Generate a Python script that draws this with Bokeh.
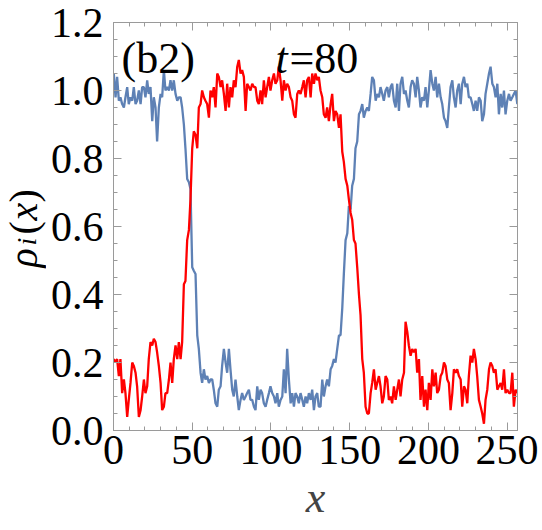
from bokeh.plotting import figure
from bokeh.layouts import row
from bokeh.models import (ColumnDataSource, LinearAxis, FixedTicker,
                          PrintfTickFormatter, CustomJSTickFormatter, Label, Range1d)
from bokeh.embed import file_html
from bokeh.resources import INLINE
import math

# ---- data ----
x_sites = [
    0.2, 1.3, 2.3, 3.4, 4.4, 5.5, 6.6, 7.6, 8.7, 9.7, 10.8, 11.9, 12.9, 14.0, 15.0, 16.1,
    17.2, 18.2, 19.3, 20.3, 21.4, 22.4, 23.5, 24.6, 25.6, 26.7, 27.7, 28.8, 29.9, 30.9,
    32.0, 33.0, 34.1, 35.2, 36.2, 37.3, 38.3, 39.4, 40.5, 41.5, 42.6, 43.6, 44.7, 45.7,
    46.8, 47.9, 48.9,
    50.0, 51.0, 52.1, 53.2, 54.2, 55.3, 56.3, 57.4, 58.4, 59.5, 60.6, 61.6, 62.7, 63.7,
    64.8, 65.9, 66.9, 68.0, 69.0, 70.1, 71.2, 72.2, 73.3, 74.3, 75.4, 76.4, 77.5, 78.6,
    79.6, 80.7, 81.7, 82.8, 83.9, 84.9, 86.0, 87.0, 88.1, 89.2, 90.2, 91.3, 92.3, 93.4,
    94.4, 95.5, 96.6, 97.6, 98.7, 99.7, 100.8, 101.9, 102.9,
    104.0, 105.0, 106.1, 107.2, 108.2, 109.3, 110.3, 111.4, 112.5, 113.5, 114.6, 115.6,
    116.7, 117.7, 118.8, 119.9, 120.9, 122.0, 123.0, 124.1, 125.2, 126.2, 127.3, 128.3,
    129.4, 130.4, 131.5, 132.6, 133.6, 134.7, 135.7, 136.8, 137.9, 138.9, 140.0, 141.0,
    142.1, 143.2, 144.2, 145.3, 146.3, 147.4, 148.5, 149.5, 150.6, 151.6, 152.7, 153.7,
    154.8, 155.9, 156.9,
    158.0, 159.0, 160.1, 161.2, 162.2, 163.3, 164.3, 165.4, 166.5, 167.5, 168.6, 169.6,
    170.7, 171.7, 172.8, 173.9, 174.9, 176.0, 177.0, 178.1, 179.2, 180.2, 181.3, 182.3,
    183.4, 184.5, 185.5, 186.6, 187.6, 188.7, 189.7, 190.8, 191.9, 192.9, 194.0, 195.0,
    196.1, 197.2, 198.2, 199.3, 200.3, 201.4, 202.5, 203.5, 204.6, 205.6, 206.7, 207.8,
    208.8, 209.9, 210.9,
    212.0, 213.0, 214.1, 215.2, 216.2, 217.3, 218.3, 219.4, 220.5, 221.5, 222.6, 223.6,
    224.7, 225.7, 226.8, 227.9, 228.9, 230.0, 231.0, 232.1, 233.2, 234.2, 235.3, 236.3,
    237.4, 238.5, 239.5, 240.6, 241.6, 242.7, 243.8, 244.8, 245.9, 246.9, 248.0, 249.0,
    250.1, 251.2, 252.2, 253.3, 254.3, 255.4, 256.5,
]

rho_blue = [
    1.05, 0.98, 1.04, 0.97, 0.98, 0.96, 0.95, 0.98, 1.01, 0.96, 0.98, 0.97, 1.01, 0.96,
    0.97, 1.00, 0.96, 1.01, 1.01, 0.98, 1.03, 0.99, 1.01, 0.91, 0.98, 0.95, 0.85, 0.95,
    0.99, 0.98, 1.06, 1.00, 1.01, 1.00, 1.03, 1.00, 1.03, 0.99, 0.97, 0.98, 0.98, 0.95,
    0.90, 0.83, 0.74, 0.73, 0.71,
    0.48, 0.47, 0.46, 0.28, 0.24, 0.17, 0.14, 0.18, 0.15, 0.16, 0.14, 0.15, 0.15, 0.12,
    0.08, 0.07, 0.12, 0.13, 0.19, 0.24, 0.20, 0.17, 0.24, 0.18, 0.12, 0.10, 0.15, 0.10,
    0.06, 0.09, 0.11, 0.09, 0.10, 0.11, 0.12, 0.09, 0.09, 0.07, 0.06, 0.13, 0.09, 0.12,
    0.11, 0.08, 0.07, 0.09, 0.11, 0.13, 0.11, 0.10, 0.08,
    0.11, 0.07, 0.09, 0.10, 0.18, 0.11, 0.24, 0.15, 0.08, 0.11, 0.07, 0.11, 0.10, 0.08,
    0.11, 0.09, 0.07, 0.10, 0.08, 0.11, 0.09, 0.12, 0.06, 0.10, 0.11, 0.07, 0.07, 0.15,
    0.10, 0.13, 0.15, 0.13, 0.18, 0.19, 0.21, 0.20, 0.24, 0.28, 0.28, 0.36, 0.46, 0.56,
    0.58, 0.66, 0.65, 0.72, 0.74, 0.83, 0.85, 0.93, 0.94,
    0.96, 0.92, 0.94, 0.95, 0.94, 0.99, 1.04, 1.03, 0.97, 0.99, 0.98, 1.01, 0.99, 0.97,
    1.00, 1.01, 0.98, 1.01, 1.02, 0.97, 0.95, 1.02, 0.94, 1.02, 1.04, 0.99, 1.00, 0.97,
    0.95, 1.01, 1.03, 1.02, 0.98, 1.04, 1.00, 0.95, 0.98, 0.97, 1.01, 0.95, 1.00, 1.06,
    1.02, 1.00, 1.04, 0.98, 1.02, 0.98, 0.96, 0.92, 0.91,
    0.89, 0.95, 1.01, 1.03, 0.98, 0.95, 1.00, 1.02, 0.96, 1.02, 1.04, 1.01, 1.02, 0.98,
    0.98, 0.96, 0.94, 0.97, 0.94, 0.98, 0.97, 0.91, 0.93, 0.99, 1.02, 1.05, 1.07, 1.02,
    1.01, 0.98, 1.02, 0.93, 0.99, 0.95, 1.00, 0.93, 0.97, 0.99, 0.97, 0.98, 0.99, 1.00,
    0.96,
]

rho_red = [
    0.21, 0.20, 0.21, 0.16, 0.21, 0.11, 0.15, 0.11, 0.04, 0.09, 0.14, 0.20, 0.19, 0.17,
    0.13, 0.04, 0.06, 0.10, 0.15, 0.11, 0.13, 0.21, 0.26, 0.25, 0.27, 0.26, 0.23, 0.19,
    0.14, 0.06, 0.07, 0.11, 0.11, 0.15, 0.20, 0.14, 0.21, 0.25, 0.21, 0.26, 0.21, 0.26,
    0.43, 0.44, 0.56, 0.59, 0.68,
    0.83, 0.88, 0.87, 0.83, 0.95, 0.96, 1.00, 0.98, 0.97, 0.96, 0.92, 1.00, 0.98, 1.01,
    0.95, 1.05, 1.04, 1.01, 1.03, 0.99, 0.94, 1.02, 0.95, 1.01, 0.98, 1.03, 1.01, 1.07,
    1.09, 1.05, 1.06, 1.04, 0.94, 1.02, 1.01, 1.00, 1.02, 1.01, 1.01, 0.97, 0.96, 1.00,
    0.96, 1.03, 0.98, 1.01, 1.04, 1.00, 1.03, 1.05, 1.02,
    1.03, 1.07, 1.03, 0.97, 1.03, 1.00, 1.02, 1.01, 0.98, 0.97, 0.93, 0.92, 0.99, 1.00,
    0.99, 1.01, 1.03, 0.98, 1.03, 1.04, 0.98, 1.05, 1.02, 1.05, 1.03, 1.04, 1.00, 0.98,
    0.93, 0.92, 0.95, 0.91, 0.96, 0.99, 0.91, 0.94, 0.93, 0.89, 0.93, 0.82, 0.79, 0.74,
    0.72, 0.68, 0.64, 0.62, 0.56, 0.55, 0.48, 0.40, 0.34,
    0.21, 0.17, 0.07, 0.05, 0.05, 0.11, 0.14, 0.18, 0.12, 0.14, 0.16, 0.13, 0.08, 0.10,
    0.16, 0.15, 0.09, 0.10, 0.08, 0.13, 0.09, 0.12, 0.15, 0.10, 0.15, 0.17, 0.32, 0.29,
    0.25, 0.22, 0.24, 0.23, 0.24, 0.17, 0.21, 0.09, 0.16, 0.07, 0.12, 0.06, 0.14, 0.09,
    0.18, 0.13, 0.17, 0.11, 0.12, 0.16, 0.17, 0.20, 0.19,
    0.15, 0.14, 0.06, 0.11, 0.18, 0.17, 0.18, 0.16, 0.15, 0.07, 0.13, 0.12, 0.08, 0.16,
    0.22, 0.20, 0.24, 0.21, 0.16, 0.09, 0.07, 0.05, 0.02, 0.09, 0.12, 0.18, 0.20, 0.19,
    0.17, 0.18, 0.12, 0.13, 0.14, 0.12, 0.18, 0.11, 0.12, 0.11, 0.11, 0.17, 0.07, 0.12,
    0.11,
]

x_major = [0, 50, 100, 150, 200, 250]
x_minor = [10, 20, 30, 40, 60, 70, 80, 90, 110, 120, 130, 140, 160, 170, 180, 190,
           210, 220, 230, 240]
y_major = [0.0, 0.2, 0.4, 0.6, 0.8, 1.0, 1.2]
y_minor = [0.05, 0.1, 0.15, 0.25, 0.3, 0.35, 0.45, 0.5, 0.55, 0.65, 0.7, 0.75,
           0.85, 0.9, 0.95, 1.05, 1.1, 1.15]

FONT = "Liberation Serif"
FRAME = "#9a9a9a"
BLUE = "#5E81B5"
RED = "#FF0000"

W, H = 542, 530
LW = 46                 # width of the narrow panel holding the y label
FL, FB = 113, 430       # frame left / bottom in window pixels

src = ColumnDataSource(dict(x=x_sites, blue=rho_blue, red=rho_red))

p = figure(width=W - LW, height=H, output_backend="svg", toolbar_location=None,
           x_range=Range1d(0, 256.6), y_range=Range1d(0, 1.2),
           min_border_left=FL - LW, min_border_right=25, min_border_top=22,
           min_border_bottom=H - FB)
p.grid.visible = False
p.outline_line_color = FRAME
p.background_fill_color = "white"
p.border_fill_color = "white"

p.line("x", "blue", source=src, line_color=BLUE, line_width=2.3)
p.line("x", "red", source=src, line_color=RED, line_width=2.3)


def style_axis(ax, major, minor, labelled=False, fmt=None):
    ax.ticker = FixedTicker(ticks=major, minor_ticks=minor)
    ax.axis_line_color = FRAME
    ax.major_tick_line_color = FRAME
    ax.minor_tick_line_color = FRAME
    ax.major_tick_in = 8
    ax.major_tick_out = 0
    ax.minor_tick_in = 4
    ax.minor_tick_out = 0
    if labelled:
        ax.formatter = fmt
        ax.major_label_text_font = FONT
        ax.major_label_text_font_size = "42px"
        ax.major_label_text_color = "black"
    else:
        ax.formatter = CustomJSTickFormatter(code="return ''")
        ax.major_label_standoff = 0


xa = p.xaxis[0]
style_axis(xa, x_major, x_minor, True, PrintfTickFormatter(format="%d"))
xa.major_label_standoff = 5
xa.axis_label = "x"
xa.axis_label_text_font = FONT
xa.axis_label_text_font_style = "italic"
xa.axis_label_text_font_size = "44px"
xa.axis_label_standoff = 6

ya = p.yaxis[0]
style_axis(ya, y_major, y_minor, True, PrintfTickFormatter(format="%.1f"))
ya.major_label_standoff = 10

top = LinearAxis()
style_axis(top, x_major, x_minor)
p.add_layout(top, "above")
right = LinearAxis()
style_axis(right, y_major, y_minor)
p.add_layout(right, "right")


def add_text(fig, ox, txt, cx, cy, style="normal", size="44px", angle=0.0):
    # cx, cy: window pixels from top-left; converted to the (row-aligned) frame
    fig.add_layout(Label(x=cx - ox, y=FB - cy, x_units="screen", y_units="screen",
                         text=txt, angle=angle, text_font=FONT, text_font_style=style,
                         text_font_size=size, text_align="left",
                         text_baseline="alphabetic", text_color="black"))


# narrow left panel carrying the rotated y label rho_i(x)
lp = figure(width=LW, height=H, output_backend="svg", toolbar_location=None,
            x_range=Range1d(0, 1), y_range=Range1d(0, 1),
            x_axis_location=None, y_axis_location=None,
            min_border=0, min_border_left=0, min_border_right=0,
            min_border_top=22, min_border_bottom=H - FB)
lp.grid.visible = False
lp.outline_line_color = None
lp.background_fill_color = "white"
lp.border_fill_color = "white"

ang = math.pi / 2
add_text(lp, 0, "\u03c1", 23, 267, "italic", "40px", ang)
add_text(lp, 0, "i", 26, 245, "italic", "28px", ang)
add_text(lp, 0, "(", 23, 234, "normal", "40px", ang)
add_text(lp, 0, "x", 23, 220, "italic", "40px", ang)
add_text(lp, 0, ")", 23, 202, "normal", "40px", ang)

# in-plot annotations
add_text(p, FL, "(b2)", 121, 58, "normal", "44px")
add_text(p, FL, "t", 275, 58, "italic", "44px")
add_text(p, FL, "=80", 289, 58, "normal", "44px")

layout = row(lp, p)
open("out.html", "w").write(file_html(layout, INLINE))
